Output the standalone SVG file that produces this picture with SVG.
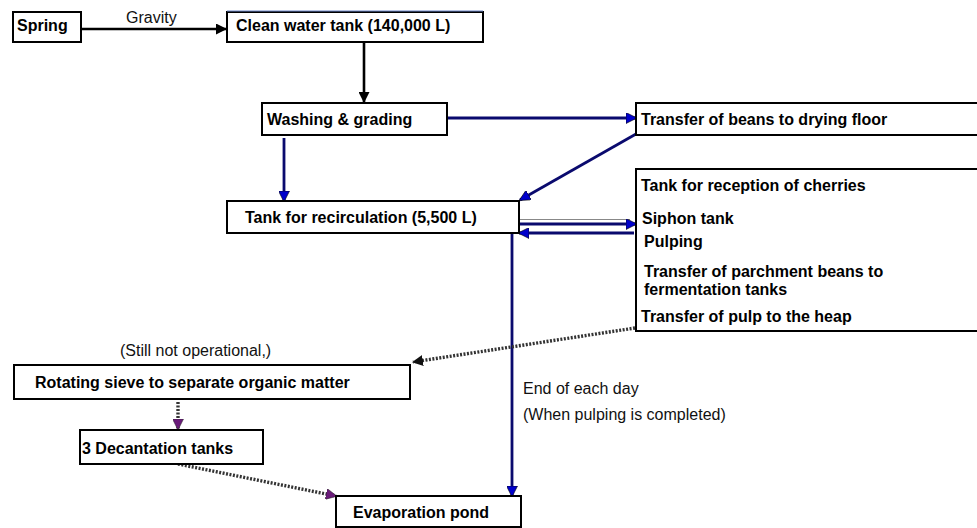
<svg xmlns="http://www.w3.org/2000/svg" width="977" height="528" viewBox="0 0 977 528">
  <style>
    .box { fill: #fff; stroke: #000; stroke-width: 2; }
    .lbl { font-family: "Liberation Sans", Arial, sans-serif; font-size: 16px; font-weight: bold; fill: #000; }
    .note { font-family: "Liberation Sans", Arial, sans-serif; font-size: 16px; fill: #111; }
    .blk { stroke: #000; stroke-width: 2.6; fill: none; }
    .nav { stroke: #0a0a6e; stroke-width: 2.8; fill: none; }
    .dot { stroke: #333; stroke-width: 3.4; stroke-dasharray: 2 1.5; fill: none; }
  </style>
  <defs>
    <marker id="ahBlack" markerWidth="11" markerHeight="11" refX="10" refY="5.5" orient="auto" markerUnits="userSpaceOnUse" viewBox="0 0 11 11">
      <path d="M0,0 L11,5.5 L0,11 Z" fill="#000"/>
    </marker>
    <marker id="ahBlue" markerWidth="11" markerHeight="11" refX="10" refY="5.5" orient="auto" markerUnits="userSpaceOnUse" viewBox="0 0 11 11">
      <path d="M0,0 L11,5.5 L0,11 Z" fill="#0000cc" stroke="#000" stroke-width="0.6"/>
    </marker>
    <marker id="ahDark" markerWidth="11" markerHeight="11" refX="10" refY="5.5" orient="auto" markerUnits="userSpaceOnUse" viewBox="0 0 11 11">
      <path d="M0,0 L11,5.5 L0,11 Z" fill="#111"/>
    </marker>
    <marker id="ahPurple" markerWidth="11" markerHeight="11" refX="10" refY="5.5" orient="auto" markerUnits="userSpaceOnUse" viewBox="0 0 11 11">
      <path d="M0,0 L11,5.5 L0,11 Z" fill="#6a1b7a" stroke="#222" stroke-width="0.5"/>
    </marker>
  </defs>

  <!-- connectors -->
  <g id="connectors">
    <line class="blk" x1="81" y1="29" x2="226" y2="29" marker-end="url(#ahBlack)"/>
    <line class="blk" x1="364" y1="42" x2="364" y2="102" marker-end="url(#ahBlack)"/>
    <line class="nav" x1="447" y1="118" x2="636" y2="118" marker-end="url(#ahBlue)"/>
    <line class="nav" x1="636" y1="134" x2="520" y2="200" marker-end="url(#ahBlue)"/>
    <line class="nav" x1="284" y1="138" x2="284" y2="201" marker-end="url(#ahBlue)"/>
    <line x1="519" y1="219.5" x2="630" y2="219.5" stroke="#888" stroke-width="1"/>
    <line class="nav" x1="519" y1="224" x2="636" y2="224" marker-end="url(#ahBlue)"/>
    <line class="nav" x1="634" y1="233" x2="519" y2="233" marker-end="url(#ahBlue)"/>
    <line class="nav" x1="512" y1="233" x2="512" y2="496" marker-end="url(#ahBlue)"/>
    <line class="dot" x1="635" y1="328" x2="413" y2="362" marker-end="url(#ahDark)"/>
    <line class="dot" x1="178" y1="402" x2="178" y2="429" marker-end="url(#ahPurple)"/>
    <line class="dot" x1="178" y1="464" x2="336" y2="496" marker-end="url(#ahPurple)"/>
  </g>

  <!-- free labels -->
  <text class="note" x="126" y="23">Gravity</text>
  <text class="note" x="120" y="356">(Still not operational,)</text>
  <text class="note" x="523" y="394">End of each day</text>
  <text class="note" x="523" y="420">(When pulping is completed)</text>

  <g id="spring">
    <rect class="box" x="13" y="12" width="68" height="30"/>
    <text class="lbl" x="17" y="31">Spring</text>
  </g>

  <g id="clean-water-tank">
    <rect class="box" x="227" y="12" width="256" height="30"/>
    <line x1="227" y1="11" x2="483" y2="11" stroke="#6a85c8" stroke-width="1"/>
    <text class="lbl" x="236" y="31">Clean water tank (140,000 L)</text>
  </g>

  <g id="washing-grading">
    <rect class="box" x="262" y="103" width="185" height="32"/>
    <text class="lbl" x="267" y="125">Washing &amp; grading</text>
  </g>

  <g id="drying-floor">
    <rect class="box" x="636" y="103" width="345" height="32"/>
    <text class="lbl" x="641" y="125">Transfer of beans to drying floor</text>
  </g>

  <g id="recirculation-tank">
    <rect class="box" x="227" y="201" width="292" height="32"/>
    <text class="lbl" x="245" y="223">Tank for recirculation (5,500 L)</text>
  </g>

  <g id="reception-pulping">
    <rect class="box" x="636" y="169" width="345" height="162"/>
    <text class="lbl" x="641" y="191">Tank for reception of cherries</text>
    <text class="lbl" x="642" y="224">Siphon tank</text>
    <text class="lbl" x="644" y="247">Pulping</text>
    <text class="lbl" x="644" y="277">Transfer of parchment beans to</text>
    <text class="lbl" x="644" y="295">fermentation tanks</text>
    <text class="lbl" x="641" y="322">Transfer of pulp to the heap</text>
  </g>

  <g id="rotating-sieve">
    <rect class="box" x="14" y="365" width="396" height="34"/>
    <text class="lbl" x="35" y="388">Rotating sieve to separate organic matter</text>
  </g>

  <g id="decantation-tanks">
    <rect class="box" x="80" y="430" width="183" height="34"/>
    <text class="lbl" x="82" y="454">3 Decantation tanks</text>
  </g>

  <g id="evaporation-pond">
    <rect class="box" x="336" y="496" width="185" height="31"/>
    <text class="lbl" x="353" y="518">Evaporation pond</text>
  </g>
</svg>
